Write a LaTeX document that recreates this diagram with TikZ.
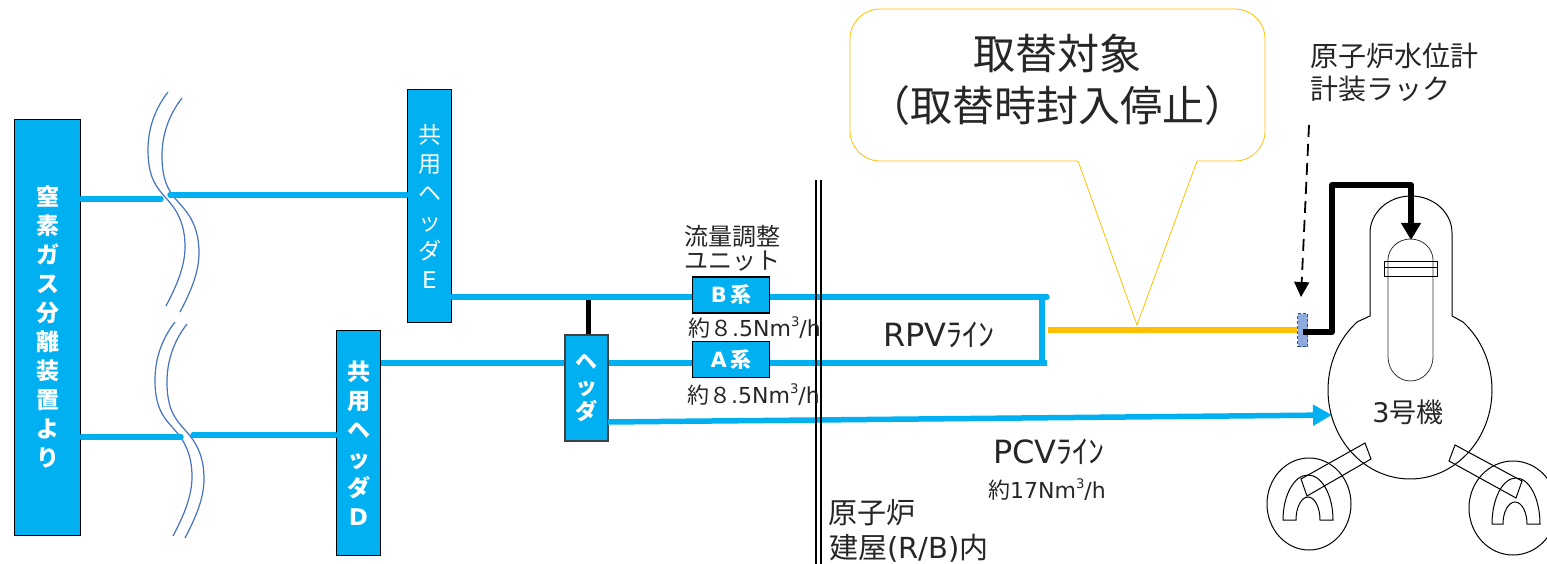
\documentclass[tikz,border=0pt]{standalone}
\usepackage{fontspec}
\setmainfont{Noto Sans CJK JP}
\newfontfamily\lat{DejaVu Sans}
\usetikzlibrary{arrows.meta}
\definecolor{pipeblue}{HTML}{00B0F0}
\definecolor{calloutline}{HTML}{FFC000}
\definecolor{wavecol}{HTML}{4472C4}
\definecolor{sensorfill}{HTML}{8FAADC}
\definecolor{sensorline}{HTML}{2F528F}
\newcommand{\fsize}[2]{\fontsize{#1}{#2}\selectfont}
\newcommand{\cubed}{\raisebox{.45em}{\scalebox{.6}{3}}}
\tikzset{
    pipe/.style={pipeblue, line width=5.5pt},
    unitbox/.style={draw=black, line width=1.6pt, fill=pipeblue, text=white, align=center, inner sep=0pt},
    txt/.style={inner sep=0pt, text=black!85, align=left},
    plant/.style={black, line width=1pt},
    wave/.style={wavecol, line width=1.2pt}
}
\begin{document}
\begin{tikzpicture}[x=1pt, y=-1pt]
    \useasboundingbox (0,0) rectangle (1547,564);

    \foreach \wx/\wy in {168/92, 182/98, 175/322, 187/324}
        \draw[wave, shift={(\wx,\wy)}] (0,0) .. controls (-14,18) and (-20,38) .. (-20,58)
            .. controls (-20,85) and (-12,95) .. (-2,106)
            .. controls (8,117) and (17,130) .. (17,155)
            .. controls (17,175) and (8,195) .. (-2,214);

    \node[unitbox, minimum width=66pt, minimum height=416pt, font=\fsize{23}{29}\bfseries] (N2) at (47.5,327.5)
        {窒\\素\\ガ\\ス\\分\\離\\装\\置\\よ\\り};
    \node[unitbox, minimum width=44pt, minimum height=233pt, font=\fsize{23}{29}] (E) at (429.5,206)
        {共\\用\\ヘ\\ッ\\ダ\\{\lat E}};
    \node[unitbox, minimum width=44pt, minimum height=225pt, font=\fsize{23}{29}\bfseries] (D) at (358.5,443)
        {共\\用\\ヘ\\ッ\\ダ\\{\lat\bfseries D}};

    \coordinate (W1) at (161,199);
    \coordinate (W2) at (170,195);
    \coordinate (W3) at (181,437);
    \coordinate (W4) at (193,435);
    \coordinate (RT) at (1047,297);
    \coordinate (RB) at (1047,363);
    \coordinate (RS) at (1042,297);
    \coordinate (RC) at (1048,330);

    \draw[pipe, line cap=round] (N2.east |- W1) -- (W1);
    \draw[pipe, line cap=round] (W2) -- (E.west |- W2);
    \draw[pipe, line cap=round] (N2.east |- W3) -- (W3);
    \draw[pipe, line cap=round] (W4) -- (D.west |- W4);
    \draw[pipe, line cap=round] (E.east |- RT) -- (RT);
    \draw[pipe] (D.east |- RB) -- (RB);
    \draw[pipe] (RS) -- (RS |- RB);

    \node[unitbox, draw=black!75, minimum width=43pt, minimum height=106pt, font=\fsize{22}{25}\bfseries] (H) at (586.5,388)
        {ヘ\\ッ\\ダ};
    \node[unitbox, minimum width=77pt, minimum height=36pt, font=\fsize{21}{22}\bfseries] (B) at (731,295) {{\lat\bfseries B}\,系};
    \node[unitbox, minimum width=77pt, minimum height=36pt, font=\fsize{21}{22}\bfseries] (A) at (731,359.5) {{\lat\bfseries A}\,系};

    \coordinate (Hup) at (588,300);
    \draw[black, line width=5pt] (Hup) -- (Hup |- H.north);

    \coordinate (Ptip) at (1332,415);
    \coordinate (Pstart) at (608,422);
    \draw[pipe, -{Triangle[length=19pt, width=20pt]}] (Pstart) -- (Ptip);

    \draw[black, line width=1.5pt] (816,180) -- (816,564);
    \draw[black, line width=1.5pt] (821,180) -- (821,564);

    \node[rectangle, draw=calloutline, line width=.8pt, rounded corners=30pt, fill=white, minimum width=415pt, minimum height=152pt] (Callout) at (1057.5,85) {};
    \node[align=center, inner sep=0pt, text=black!85, font=\fsize{42}{52}] (CalloutText) at (1057,80)
        {取替対象\\（取替時封入停止）};
    \coordinate (CL) at (1078,161);
    \coordinate (CR) at (1197,161);
    \coordinate (CT) at (1137,325);
    \draw[white, line width=2pt] (CL) -- (CR);
    \draw[calloutline, line width=.8pt] (CL) -- (CT) -- (CR);

    \node[rectangle, draw=sensorline, densely dashed, line width=.8pt, fill=sensorfill, minimum width=10pt, minimum height=33pt, inner sep=0pt] (S) at (1302.5,330) {};
    \draw[calloutline, line width=5.5pt] (RC) -- (S.west |- RC);

    \draw[plant] (1370,316) -- (1357.3,321.8) arc[start angle=-130, end angle=-410, x radius=82, y radius=89]
        -- (1452,316) -- (1452,233) arc[start angle=0, end angle=-180, x radius=41, y radius=37] -- cycle;
    \draw[black!80, line width=.8pt] (1388,260) arc[start angle=180, end angle=360, x radius=22.5, y radius=21]
        -- (1433,357) arc[start angle=0, end angle=180, x radius=22.5, y radius=24] -- cycle;
    \draw[plant] (1384,261) rectangle (1437,276);
    \draw[plant] (1384,267) -- (1437,267);

    \coordinate (Vtop) at (1411,240);
    \coordinate (P1) at (1332,332);
    \coordinate (P2) at (1332,185);
    \coordinate (P3) at (1411,185);
    \draw[black, line width=6pt, line join=round, -{Triangle[length=17pt, width=19pt]}] (S.center |- P1) -- (P1) -- (P2) -- (P3) -- (Vtop);

    \coordinate (Dstart) at (1309,125);
    \coordinate (Dtip) at (1301,297);
    \draw[black, line width=1.8pt, dash pattern=on 12pt off 7pt, -{Triangle[length=15pt, width=15pt]}] (Dstart) -- (Dtip);

    \draw[plant] (1309,504) ellipse [x radius=42, y radius=46];
    \draw[plant] (1513,508) ellipse [x radius=44, y radius=47];
    \draw[plant] (1283,520) arc[start angle=180, end angle=360, x radius=25, y radius=45]
        -- (1320,520) arc[start angle=0, end angle=-180, x radius=12, y radius=23] -- cycle;
    \draw[plant] (1492,524) arc[start angle=180, end angle=360, x radius=24, y radius=46]
        -- (1527,524) arc[start angle=0, end angle=-180, x radius=12, y radius=22] -- cycle;
    \draw[plant] (1365,443) -- (1371,459) -- (1307,496) -- (1301,479) -- cycle;
    \draw[plant] (1455,445) -- (1449,461) -- (1516,498) -- (1522,481) -- cycle;

    \node[txt, anchor=center, font=\fsize{27}{28}] (Unit3) at (1408,412) {{\lat 3}号機};
    \node[txt, anchor=north west, font=\fsize{28}{33}] (Gauge) at (1310,43) {原子炉水位計\\計装ラック};
    \node[txt, anchor=north west, font=\fsize{24}{24}] (Flow) at (684,225) {流量調整\\ユニット};
    \node[txt, anchor=west, font=\fsize{22}{24}] (RateB) at (688,328) {約８{\lat .5Nm\cubed/h}};
    \node[txt, anchor=west, font=\fsize{22}{24}] (RateA) at (687,395) {約８{\lat .5Nm\cubed/h}};
    \node[txt, anchor=west, font=\fsize{32}{34}] (RPV) at (883,335) {{\lat RPV}ﾗｲﾝ};
    \node[txt, anchor=west, font=\fsize{32}{34}] (PCV) at (993,452) {{\lat PCV}ﾗｲﾝ};
    \node[txt, anchor=west, font=\fsize{22}{24}] (RatePCV) at (988,490) {約{\lat 17Nm\cubed/h}};
    \node[txt, anchor=west, font=\fsize{29}{30}] (RB1) at (828,513) {原子炉};
    \node[txt, anchor=west, font=\fsize{29}{30}] (RB2) at (829,548) {建屋{\lat (R/B)}内};
\end{tikzpicture}
\end{document}
